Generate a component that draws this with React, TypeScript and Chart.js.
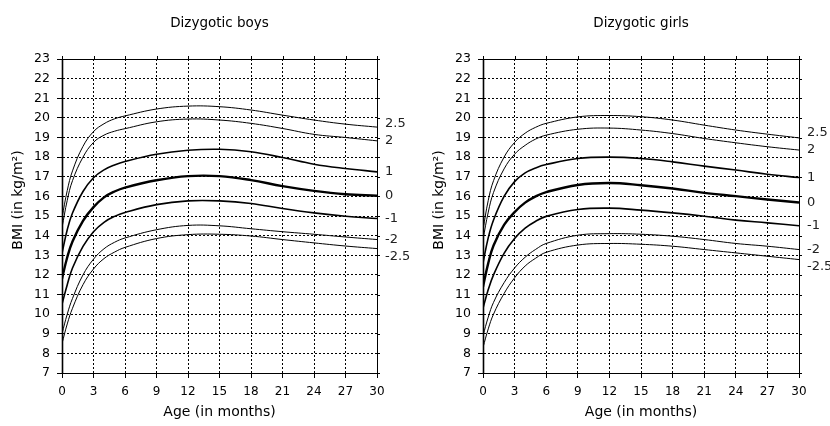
import React, { useEffect, useRef } from "react";
import { Chart, registerables } from "chart.js";
Chart.register(...registerables);

// Age in months
const months = [0, 0.5, 1, 2, 3, 4, 5, 6, 9, 12, 15, 18, 21, 24, 27, 30];
const xTicks = [0, 3, 6, 9, 12, 15, 18, 21, 24, 27, 30];
const yMin = 7;
const yMax = 23;
const sdLabels = ["2.5", "2", "1", "0", "-1", "-2", "-2.5"];

// Dizygotic boys BMI (kg/m²) per SD curve
const boysP25 = [14.9, 16.3, 17.3, 18.55, 19.3, 19.7, 19.95, 20.1, 20.45, 20.6, 20.57, 20.4, 20.14, 19.89, 19.68, 19.53];
const boysP2 = [14.4, 15.8, 16.8, 18.0, 18.75, 19.12, 19.32, 19.45, 19.8, 19.94, 19.89, 19.72, 19.46, 19.16, 19.0, 18.83];
const boysP1 = [13.1, 14.3, 15.15, 16.25, 16.95, 17.35, 17.6, 17.78, 18.15, 18.35, 18.4, 18.27, 17.98, 17.64, 17.42, 17.25];
const boys0 = [11.8, 12.9, 13.7, 14.75, 15.45, 15.95, 16.25, 16.45, 16.82, 17.03, 17.03, 16.83, 16.52, 16.28, 16.11, 16.03];
const boysM1 = [10.5, 11.5, 12.35, 13.45, 14.2, 14.68, 14.98, 15.18, 15.58, 15.77, 15.77, 15.64, 15.38, 15.16, 14.99, 14.87];
const boysM2 = [9.0, 10.0, 10.8, 12.0, 12.8, 13.33, 13.66, 13.88, 14.3, 14.52, 14.5, 14.35, 14.2, 14.07, 13.93, 13.8];
const boysM25 = [8.5, 9.5, 10.3, 11.5, 12.3, 12.83, 13.16, 13.4, 13.85, 14.05, 14.07, 13.98, 13.8, 13.63, 13.47, 13.34];

// Dizygotic girls BMI (kg/m²) per SD curve
const girlsP25 = [14.3, 15.8, 16.8, 18.0, 18.75, 19.22, 19.52, 19.72, 20.05, 20.12, 20.06, 19.89, 19.63, 19.38, 19.17, 18.98];
const girlsP2 = [13.8, 15.2, 16.2, 17.4, 18.15, 18.6, 18.92, 19.12, 19.42, 19.48, 19.38, 19.2, 18.95, 18.73, 18.53, 18.36];
const girlsP1 = [12.6, 13.9, 14.8, 16.0, 16.75, 17.2, 17.45, 17.62, 17.93, 18.0, 17.93, 17.76, 17.54, 17.34, 17.13, 16.96];
const girls0 = [11.4, 12.6, 13.5, 14.55, 15.2, 15.68, 16.0, 16.22, 16.58, 16.68, 16.57, 16.4, 16.18, 16.01, 15.84, 15.69];
const girlsM1 = [10.3, 11.25, 12.0, 13.1, 13.85, 14.38, 14.73, 14.98, 15.33, 15.4, 15.3, 15.16, 14.99, 14.79, 14.65, 14.5];
const girlsM2 = [8.9, 9.85, 10.6, 11.6, 12.35, 12.9, 13.3, 13.6, 14.02, 14.1, 14.07, 13.97, 13.8, 13.6, 13.46, 13.29];
const girlsM25 = [8.3, 9.25, 10.0, 11.05, 11.85, 12.45, 12.85, 13.15, 13.52, 13.6, 13.56, 13.46, 13.29, 13.12, 12.95, 12.78];

const boysSeries = [boysP25, boysP2, boysP1, boys0, boysM1, boysM2, boysM25];
const girlsSeries = [girlsP25, girlsP2, girlsP1, girls0, girlsM1, girlsM2, girlsM25];
const lineWidths = [1, 1, 1.6, 2.4, 1.6, 1, 1];

const FONT = "'DejaVu Sans', sans-serif";

function makeConfig(title: string, series: number[][], padRight: number): any {
  const framePlugin = {
    id: "frame" + title.replace(/\s/g, ""),
    afterDraw(chart: any) {
      const { ctx, chartArea: a, scales } = chart;
      ctx.save();
      ctx.strokeStyle = "#000";
      ctx.lineWidth = 1;
      ctx.setLineDash([]);
      ctx.strokeRect(Math.round(a.left) + 0.5, Math.round(a.top) + 0.5, Math.round(a.right - a.left), Math.round(a.bottom - a.top));
      ctx.lineWidth = 1.6;
      ctx.beginPath();
      ctx.moveTo(Math.round(a.left) + 0.5, a.top);
      ctx.lineTo(Math.round(a.left) + 0.5, a.bottom);
      ctx.stroke();
      ctx.lineWidth = 1;
      // small tick marks on the right and top edges
      ctx.beginPath();
      for (let v = yMin; v <= yMax; v++) {
        const y = Math.round(scales.y.getPixelForValue(v)) + 0.5;
        ctx.moveTo(a.right, y);
        ctx.lineTo(a.right + 3, y);
      }
      for (const t of xTicks) {
        const x = Math.round(scales.x.getPixelForValue(t)) + 0.5;
        ctx.moveTo(x, a.top);
        ctx.lineTo(x, a.top - 3);
      }
      ctx.stroke();
      // SD labels at the right end of each curve
      ctx.fillStyle = "#222";
      ctx.font = "13px " + FONT;
      ctx.textAlign = "left";
      ctx.textBaseline = "middle";
      const ends = series.map((s) => scales.y.getPixelForValue(s[s.length - 1]));
      const pos = ends.slice();
      const gap = 17;
      const mid = 3;
      for (let i = mid - 1; i >= 0; i--) pos[i] = Math.min(ends[i], pos[i + 1] - gap);
      for (let i = mid + 1; i < ends.length; i++) pos[i] = Math.max(ends[i], pos[i - 1] + gap);
      sdLabels.forEach((l, i) => ctx.fillText(l, a.right + 8, pos[i]));
      // y axis title
      ctx.save();
      ctx.translate(18, 200);
      ctx.rotate(-Math.PI / 2);
      ctx.textAlign = "center";
      ctx.fillStyle = "#000";
      ctx.font = "14px " + FONT;
      ctx.fillText("BMI (in kg/m²)", 0, 0);
      ctx.restore();
      ctx.restore();
    },
  };

  return {
    type: "line",
    data: {
      datasets: series.map((s, i) => ({
        label: sdLabels[i],
        data: months.map((m, j) => ({ x: m, y: s[j] })),
        borderColor: "#000",
        borderWidth: lineWidths[i],
        pointRadius: 0,
        fill: false,
        tension: 0.4,
      })),
    },
    options: {
      animation: false,
      responsive: false,
      maintainAspectRatio: false,
      layout: { padding: { left: 7, right: padRight, top: 0, bottom: 2 } },
      plugins: {
        legend: { display: false },
        tooltip: { enabled: false },
        title: {
          display: true,
          text: title,
          fullSize: false,
          color: "#000",
          font: { family: FONT, size: 13.5, weight: "normal" },
          padding: { top: 15, bottom: 27.8 },
        },
      },
      scales: {
        x: {
          type: "linear",
          min: 0,
          max: 30,
          afterFit: (s: any) => {
            s.height = 51;
          },
          afterBuildTicks: (s: any) => {
            s.ticks = xTicks.map((v) => ({ value: v }));
          },
          ticks: {
            autoSkip: false,
            maxRotation: 0,
            color: "#000",
            font: { family: FONT, size: 12 },
            padding: 7,
          },
          grid: { color: "#000", lineWidth: 1, tickLength: 5, drawTicks: true },
          border: { display: true, color: "#000", width: 1, dash: [2, 2] },
          title: {
            display: true,
            text: "Age (in months)",
            color: "#000",
            font: { family: FONT, size: 14 },
            padding: { top: 0, bottom: 3 },
          },
        },
        y: {
          type: "linear",
          min: yMin,
          max: yMax,
          afterFit: (s: any) => {
            s.width = 55;
          },
          ticks: {
            stepSize: 1,
            autoSkip: false,
            color: "#000",
            font: { family: FONT, size: 12.5 },
            padding: 7,
          },
          grid: { color: "#000", lineWidth: 1, tickLength: 5 },
          border: { display: true, color: "#000", width: 1, dash: [2, 2] },
        },
      },
    },
    plugins: [framePlugin],
  };
}

function ChartPanel(props: { title: string; series: number[][]; width: number; left: number; padRight: number }) {
  const ref = useRef<HTMLCanvasElement | null>(null);
  useEffect(() => {
    if (!ref.current) return;
    const chart = new Chart(ref.current, makeConfig(props.title, props.series, props.padRight));
    return () => chart.destroy();
  }, []);
  return (
    <canvas
      ref={ref}
      width={props.width}
      height={426}
      style={{ position: "absolute", left: props.left, top: 0, width: props.width, height: 426 }}
    />
  );
}

export default function App() {
  return (
    <div style={{ position: "fixed", left: 0, top: 0, width: 830, height: 426, background: "#fff" }}>
      <ChartPanel title="Dizygotic boys" series={boysSeries} width={415} left={0} padRight={38} />
      <ChartPanel title="Dizygotic girls" series={girlsSeries} width={409} left={421} padRight={31} />
    </div>
  );
}
